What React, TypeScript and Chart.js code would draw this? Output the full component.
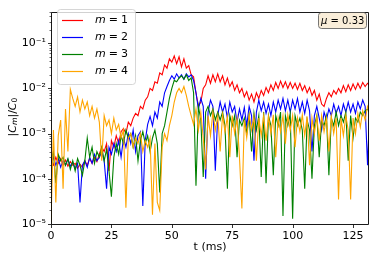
import React, { useEffect, useRef } from 'react';
import { Chart, registerables } from 'chart.js';
Chart.register(...registerables);

// sampling times (ms)
const times: number[] = Array.from({ length: 133 }, (_, i) => i);

const seriesNames = ['1', '2', '3', '4'];
const seriesColors = ['#ff0000', '#0000ff', '#008000', '#ffa500'];

const m1: number[] = [
  2.5e-4, 2.0e-4, 3.0e-4, 2.2e-4, 2.8e-4, 2.0e-4, 2.6e-4, 1.9e-4, 2.4e-4, 2.0e-4,
  2.2e-4, 1.7e-4, 2.1e-4, 1.8e-4, 2.5e-4, 2.0e-4, 2.8e-4, 2.2e-4, 3.0e-4, 2.4e-4,
  3.5e-4, 5.0e-4, 4.0e-4, 6.0e-4, 1.5e-4, 7.0e-4, 5.0e-4, 9.0e-4, 6.0e-4, 1.1e-3,
  1.3e-3, 1.0e-3, 1.8e-3, 1.5e-3, 2.2e-3, 2.8e-3, 2.5e-3, 4.0e-3, 3.5e-3, 5.5e-3,
  6.5e-3, 1.0e-2, 9.0e-3, 1.4e-2, 1.3e-2, 2.2e-2, 2.0e-2, 3.3e-2, 2.8e-2, 4.5e-2,
  3.8e-2, 5.2e-2, 3.5e-2, 5.0e-2, 3.0e-2, 4.5e-2, 2.8e-2, 3.2e-2, 2.0e-2, 1.8e-2,
  8.0e-3, 4.0e-3, 5.0e-3, 1.0e-2, 1.2e-2, 1.9e-2, 1.3e-2, 2.0e-2, 1.4e-2, 2.1e-2,
  1.4e-2, 1.9e-2, 1.2e-2, 1.7e-2, 1.1e-2, 1.4e-2, 9.0e-3, 1.2e-2, 8.0e-3, 1.0e-2,
  6.5e-3, 8.5e-3, 5.5e-3, 7.5e-3, 5.0e-3, 8.0e-3, 6.0e-3, 9.0e-3, 7.0e-3, 1.05e-2,
  8.0e-3, 1.2e-2, 9.0e-3, 1.35e-2, 1.0e-2, 1.45e-2, 1.05e-2, 1.4e-2, 1.0e-2, 1.35e-2,
  1.0e-2, 1.3e-2, 9.5e-3, 1.3e-2, 9.0e-3, 1.15e-2, 8.0e-3, 1.05e-2, 7.0e-3, 9.0e-3,
  5.5e-3, 7.5e-3, 4.5e-3, 4.0e-3, 6.0e-3, 8.0e-3, 6.5e-3, 9.0e-3, 7.5e-3, 1.0e-2,
  8.0e-3, 1.15e-2, 8.5e-3, 1.2e-2, 9.0e-3, 1.25e-2, 9.5e-3, 1.3e-2, 1.0e-2, 1.35e-2,
  1.1e-2, 1.3e-2, 1.15e-2,
];

const m2: number[] = [
  2.2e-4, 3.0e-4, 2.0e-4, 2.8e-4, 1.8e-4, 2.5e-4, 2.0e-4, 2.7e-4, 1.9e-4, 2.3e-4,
  1.7e-4, 2.2e-4, 3.0e-5, 2.0e-4, 2.5e-4, 1.8e-4, 3.0e-4, 2.2e-4, 3.5e-4, 2.5e-4,
  3.0e-4, 4.0e-4, 2.5e-4, 6.0e-5, 5.0e-4, 3.5e-4, 6.0e-4, 4.0e-4, 7.0e-4, 3.0e-4,
  8.0e-4, 5.0e-4, 1.0e-3, 6.0e-4, 1.2e-3, 4.0e-4, 9.0e-4, 1.1e-3, 2.5e-5, 7.0e-4,
  1.6e-3, 2.4e-3, 1.5e-3, 3.0e-3, 2.2e-3, 5.0e-3, 4.0e-3, 8.0e-3, 1.1e-2, 1.5e-2,
  1.9e-2, 1.6e-2, 2.1e-2, 1.7e-2, 2.0e-2, 1.6e-2, 2.1e-2, 1.8e-2, 2.0e-2, 1.5e-2,
  8.0e-3, 3.5e-3, 6.0e-3, 4.0e-3, 1.0e-4, 3.0e-3, 5.5e-3, 4.0e-3, 1.5e-4, 2.5e-3,
  5.0e-3, 3.0e-3, 4.5e-3, 2.2e-3, 5.0e-3, 3.0e-3, 4.0e-3, 1.8e-3, 3.5e-3, 2.0e-3,
  3.8e-3, 1.5e-3, 4.0e-3, 2.5e-3, 2.5e-4, 3.0e-3, 5.5e-3, 3.2e-3, 5.0e-3, 2.8e-3,
  4.5e-3, 2.5e-3, 5.0e-3, 3.0e-3, 5.5e-3, 3.5e-3, 6.0e-3, 3.2e-3, 5.5e-3, 3.0e-3,
  5.5e-3, 3.5e-3, 6.0e-3, 3.0e-3, 5.0e-3, 2.8e-3, 5.5e-3, 3.2e-3, 4.0e-4, 2.5e-3,
  4.0e-3, 2.2e-3, 1.2e-3, 3.0e-3, 2.0e-3, 3.5e-3, 2.5e-3, 4.5e-3, 2.8e-3, 4.0e-3,
  2.5e-3, 4.5e-3, 3.0e-3, 5.0e-3, 3.0e-3, 4.5e-3, 2.8e-3, 5.0e-3, 3.5e-3, 5.5e-3,
  4.0e-3, 2.0e-4, 5.0e-3,
];

const m3: number[] = [
  2.5e-4, 4.0e-4, 8.0e-5, 3.5e-4, 2.5e-4, 3.0e-4, 2.0e-4, 2.8e-4, 1.6e-4, 2.5e-4,
  1.5e-4, 2.8e-4, 2.0e-4, 1.2e-4, 2.5e-4, 8.0e-4, 3.0e-4, 5.0e-4, 2.2e-4, 4.0e-4,
  3.0e-4, 5.0e-4, 2.5e-4, 4.5e-4, 1.5e-4, 4.0e-5, 3.0e-4, 6.0e-4, 3.5e-4, 9.0e-4,
  6.0e-4, 1.2e-3, 8.0e-4, 1.0e-3, 5.0e-4, 9.0e-4, 2.5e-4, 7.0e-4, 1.1e-3, 6.0e-4,
  9.0e-4, 4.0e-4, 8.0e-4, 1.2e-3, 6.0e-4, 5.0e-5, 1.0e-3, 1.5e-3, 3.0e-3, 6.0e-3,
  1.0e-2, 1.5e-2, 1.4e-2, 1.7e-2, 1.9e-2, 1.6e-2, 2.0e-2, 1.5e-2, 1.7e-2, 8.0e-3,
  7.0e-5, 4.0e-3, 2.0e-3, 1.1e-4, 3.0e-3, 4.0e-3, 2.5e-3, 3.5e-3, 2.0e-3, 3.0e-3,
  2.0e-3, 3.0e-3, 1.5e-3, 6.0e-5, 2.5e-3, 1.5e-3, 2.5e-3, 3.0e-4, 2.0e-3, 1.5e-3,
  2.2e-3, 1.0e-3, 2.5e-3, 4.0e-4, 2.8e-3, 1.2e-3, 2.5e-3, 1.1e-4, 3.0e-3, 8.0e-5,
  2.5e-3, 1.5e-3, 1.2e-4, 2.5e-3, 1.5e-3, 3.0e-3, 1.5e-5, 2.5e-3, 1.5e-3, 2.8e-3,
  1.3e-5, 2.5e-3, 1.5e-3, 2.2e-3, 1.2e-3, 6.0e-5, 2.0e-3, 1.2e-3, 1.0e-4, 1.5e-3,
  2.5e-3, 3.0e-4, 2.0e-3, 1.5e-3, 2.5e-3, 1.2e-4, 2.2e-3, 1.5e-3, 3.0e-3, 1.5e-3,
  2.5e-3, 1.8e-3, 3.0e-3, 2.5e-4, 2.5e-3, 8.0e-4, 2.2e-3, 1.8e-3, 3.0e-3, 2.5e-3,
  3.2e-3, 3.5e-3, 2.8e-3,
];

const m4: number[] = [
  1.1e-5, 1.2e-3, 3.0e-5, 9.0e-4, 2.0e-3, 6.0e-5, 3.5e-3, 4.0e-4, 9.5e-3, 6.0e-3,
  4.0e-3, 6.5e-3, 3.0e-3, 5.5e-3, 3.5e-3, 5.0e-3, 2.5e-3, 4.0e-3, 2.2e-3, 3.5e-3,
  1.8e-3, 2.5e-4, 2.5e-3, 1.5e-3, 2.0e-3, 1.0e-3, 2.2e-3, 1.2e-3, 1.6e-3, 8.0e-4,
  1.2e-3, 2.3e-5, 8.0e-4, 1.0e-3, 5.0e-4, 8.0e-4, 6.0e-4, 1.0e-3, 4.0e-4, 7.0e-4,
  5.0e-4, 8.0e-4, 1.6e-5, 6.0e-4, 3.0e-5, 2.0e-5, 5.0e-4, 1.0e-3, 7.0e-4, 1.5e-3,
  2.5e-3, 5.0e-3, 8.0e-3, 1.0e-2, 8.0e-3, 1.1e-2, 7.0e-3, 4.0e-3, 2.5e-3, 1.6e-3,
  3.5e-3, 1.2e-3, 3.0e-3, 8.0e-4, 1.6e-4, 2.5e-3, 9.0e-4, 3.0e-3, 1.2e-3, 2.5e-3,
  4.0e-4, 2.6e-3, 1.1e-3, 2.4e-3, 3.0e-4, 2.5e-3, 1.0e-3, 2.2e-3, 3.0e-4, 2.2e-5,
  2.0e-3, 8.0e-4, 2.6e-3, 1.2e-3, 2.4e-3, 2.5e-4, 2.2e-3, 9.0e-4, 2.5e-3, 7.0e-4,
  2.4e-3, 1.0e-3, 2.6e-3, 3.0e-4, 2.2e-3, 1.1e-3, 2.5e-3, 6.0e-4, 2.6e-3, 1.2e-3,
  2.5e-3, 5.0e-4, 2.2e-3, 1.1e-3, 2.6e-3, 9.0e-4, 2.4e-3, 2.0e-4, 2.2e-3, 1.0e-3,
  2.4e-3, 7.0e-4, 2.5e-3, 1.1e-3, 2.2e-3, 4.0e-4, 2.4e-3, 1.0e-3, 2.2e-3, 3.5e-5,
  2.2e-3, 9.0e-4, 2.5e-3, 1.2e-3, 3.5e-5, 2.2e-3, 1.0e-3, 2.8e-3, 1.4e-3, 3.2e-3,
  2.0e-3, 4.0e-3, 3.0e-3,
];

const seriesValues = [m1, m2, m3, m4];

const xTicks = [0, 25, 50, 75, 100, 125];
const yMajorTicks = [1e-5, 1e-4, 1e-3, 1e-2, 1e-1];
const yTickLabels = ['10⁻⁵', '10⁻⁴', '10⁻³', '10⁻²', '10⁻¹'];
const X_MAX = 131.6;
const Y_MIN = 1e-5;
const Y_MAX = 0.5;
const annotationText = { sym: 'μ', rest: ' = 0.33' };

const FONT = '"DejaVu Sans", sans-serif';

function yTickValues(): number[] {
  const out: number[] = [];
  for (const p of yMajorTicks) {
    for (let k = 1; k <= 9; k++) {
      const v = k * p;
      if (v <= Y_MAX * 1.0001) out.push(v);
    }
  }
  return out;
}

function isMajor(v: number) {
  const l = Math.log10(v);
  return Math.abs(l - Math.round(l)) < 1e-6;
}

const decor = {
  id: 'decor',
  afterDatasetsDraw(chart: any) {
    const { ctx, chartArea: a, scales } = chart;
    const L = Math.round(a.left) + 0.5;
    const R = Math.round(a.right) - 0.5;
    const T = Math.round(a.top) + 0.5;
    const B = Math.round(a.bottom) + 0.5;
    ctx.save();
    // spines
    ctx.strokeStyle = '#000';
    ctx.lineWidth = 0.9;
    ctx.beginPath();
    ctx.rect(L, T, R - L, B - T);
    ctx.stroke();
    // x ticks
    ctx.lineWidth = 0.8;
    for (const v of xTicks) {
      const px = Math.round(scales.x.getPixelForValue(v)) + 0.5;
      ctx.beginPath();
      ctx.moveTo(px, B);
      ctx.lineTo(px, B + 3.5);
      ctx.stroke();
    }
    // y ticks
    for (const v of yTickValues()) {
      const py = Math.round(scales.y.getPixelForValue(v)) + 0.5;
      const maj = isMajor(v);
      ctx.lineWidth = maj ? 0.8 : 0.6;
      ctx.beginPath();
      ctx.moveTo(L, py);
      ctx.lineTo(L - (maj ? 3.5 : 2), py);
      ctx.stroke();
    }

    // legend
    const lx = 57, ly = 9, lw = 78, lh = 75;
    ctx.beginPath();
    (ctx as any).roundRect(lx + 0.5, ly + 0.5, lw, lh, 3);
    ctx.fillStyle = 'rgba(255,255,255,0.8)';
    ctx.fill();
    ctx.strokeStyle = '#cccccc';
    ctx.lineWidth = 0.8;
    ctx.stroke();
    const rows = [20, 37, 54, 71];
    ctx.textBaseline = 'middle';
    seriesNames.forEach((name, i) => {
      const y = rows[i] + 0.5;
      ctx.strokeStyle = seriesColors[i];
      ctx.lineWidth = 1.2;
      ctx.beginPath();
      ctx.moveTo(62, y);
      ctx.lineTo(83, y);
      ctx.stroke();
      ctx.fillStyle = '#000';
      let x = 95;
      ctx.font = `italic 11px ${FONT}`;
      ctx.fillText('m', x, y);
      x += ctx.measureText('m').width + 3;
      ctx.font = `11px ${FONT}`;
      ctx.fillText('=', x, y);
      x += ctx.measureText('=').width + 3;
      ctx.fillText(name, x, y);
    });

    // annotation box
    const bx = 318, by = 12, bw = 48, bh = 16;
    ctx.beginPath();
    (ctx as any).roundRect(bx + 0.5, by + 0.5, bw, bh, 3);
    ctx.fillStyle = 'rgba(245,222,179,0.5)';
    ctx.fill();
    ctx.strokeStyle = '#555';
    ctx.lineWidth = 0.8;
    ctx.stroke();
    ctx.fillStyle = '#000';
    ctx.font = `italic 10px ${FONT}`;
    let tx = 321;
    const ty = by + bh / 2 + 1;
    ctx.fillText(annotationText.sym, tx, ty);
    tx += ctx.measureText(annotationText.sym).width;
    ctx.font = `10px ${FONT}`;
    ctx.fillText(annotationText.rest, tx, ty);

    // y title |C_m|/C_0
    ctx.save();
    ctx.translate(13, 117);
    ctx.rotate(-Math.PI / 2);
    const parts: [string, string, number][] = [
      ['|', `11px ${FONT}`, 0],
      ['C', `italic 11px ${FONT}`, 0],
      ['m', `italic 7.7px ${FONT}`, 2.5],
      ['|/', `11px ${FONT}`, 0],
      ['C', `italic 11px ${FONT}`, 0],
      ['0', `7.7px ${FONT}`, 2.5],
    ];
    let total = 0;
    for (const [t, f] of parts) {
      ctx.font = f;
      total += ctx.measureText(t).width;
    }
    let px = -total / 2;
    ctx.textBaseline = 'middle';
    for (const [t, f, dy] of parts) {
      ctx.font = f;
      ctx.fillText(t, px, dy);
      px += ctx.measureText(t).width;
    }
    ctx.restore();
    ctx.restore();
  },
};

export default function App() {
  const ref = useRef<HTMLCanvasElement | null>(null);
  useEffect(() => {
    document.body.style.margin = '0';
    const canvas = ref.current;
    if (!canvas) return;
    const order = [4, 3, 2, 1];
    const chart = new Chart(canvas, {
      type: 'line',
      data: {
        datasets: seriesValues.map((vals, i) => ({
          label: 'm = ' + seriesNames[i],
          data: times.map((t, j) => ({ x: t, y: vals[j] })),
          borderColor: seriesColors[i],
          backgroundColor: seriesColors[i],
          borderWidth: 1.1,
          pointRadius: 0,
          tension: 0,
          fill: false,
          order: order[i],
        })),
      },
      options: {
        responsive: false,
        animation: false,
        devicePixelRatio: 1,
        layout: { padding: { left: 0, top: 4, right: 5, bottom: 0 } },
        plugins: { legend: { display: false }, tooltip: { enabled: false } },
        scales: {
          x: {
            type: 'linear',
            min: 0,
            max: X_MAX,
            afterBuildTicks: (s: any) => {
              s.ticks = xTicks.map((v) => ({ value: v }));
            },
            afterFit: (s: any) => {
              s.height = 35;
            },
            grid: { display: false, drawTicks: false },
            border: { display: false },
            ticks: {
              autoSkip: false,
              maxRotation: 0,
              padding: 6,
              color: '#000',
              font: { family: FONT, size: 11 },
              callback: (v: any) => String(v),
            },
            title: {
              display: true,
              text: 't (ms)',
              color: '#000',
              font: { family: FONT, size: 11 },
              padding: { top: 0, bottom: 5 },
            },
          },
          y: {
            type: 'logarithmic',
            min: Y_MIN,
            max: Y_MAX,
            afterBuildTicks: (s: any) => {
              s.ticks = yTickValues().map((v) => ({ value: v }));
            },
            afterFit: (s: any) => {
              s.width = 51;
            },
            grid: { display: false, drawTicks: false },
            border: { display: false },
            ticks: {
              autoSkip: false,
              padding: 5,
              color: '#000',
              font: { family: FONT, size: 11 },
              callback: (v: any) => {
                const idx = yMajorTicks.findIndex((m) => Math.abs(m - v) / m < 1e-6);
                return idx >= 0 ? yTickLabels[idx] : '';
              },
            },
          },
        },
      },
      plugins: [decor],
    });
    return () => chart.destroy();
  }, []);
  return (
    <div style={{ width: 374, height: 259 }}>
      <canvas ref={ref} width={374} height={259} />
    </div>
  );
}
